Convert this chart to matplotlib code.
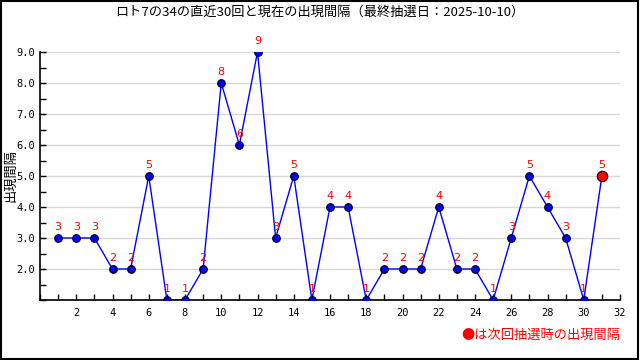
import numpy as np
import matplotlib
matplotlib.use('Agg')
from matplotlib import pyplot as plt
from matplotlib.patches import Rectangle
from matplotlib.ticker import MultipleLocator

plt.rcParams['font.family'] = ['Noto Sans CJK JP', 'DejaVu Sans']

# draws 1..31, the last one is the current gap
draws = list(range(1, 32))
gaps = [3, 3, 3, 2, 2, 5, 1, 1, 2, 8, 6, 9, 3, 5, 1, 4, 4, 1, 2, 2, 2, 4, 2, 2, 1, 3, 5, 4, 3, 1, 5]
yticks = [2, 3, 4, 5, 6, 7, 8, 9]
xticks = list(range(2, 33, 2))

title = 'ロト7の34の直近30回と現在の出現間隔（最終抽選日：2025-10-10）'
ylabel = '出現間隔'
note = '●は次回抽選時の出現間隔'

fig = plt.figure(figsize=(6.4, 3.6), dpi=100)
ax = fig.add_axes([40 / 640, 60 / 360, 580 / 640, 248 / 360])

# grid
for v in yticks:
    ax.axhline(v, color='#d8d8d8', lw=1, zorder=0)

ax.plot(draws, gaps, color='blue', lw=1, zorder=2)
ax.plot(draws[:-1], gaps[:-1], 'o', ms=5.5, mfc='blue', mec='black', mew=0.8, zorder=3)
ax.plot(draws[-1:], gaps[-1:], 'o', ms=7.5, mfc='red', mec='black', mew=0.8, zorder=3)

for x, y in zip(draws, gaps):
    ax.annotate(str(y), (x, y), xytext=(0, 4), textcoords='offset points',
                ha='center', va='bottom', color='red', fontsize=8,
                family='DejaVu Sans', zorder=4)

ax.set_xlim(0, 32)
ax.set_ylim(1, 9)
ax.set_xticks(xticks)
ax.set_yticks(yticks)
ax.set_yticklabels(['%.1f' % v for v in yticks])
ax.xaxis.set_minor_locator(MultipleLocator(1))
ax.yaxis.set_minor_locator(MultipleLocator(0.5))
ax.tick_params(which='both', direction='in', length=4, width=1, labelsize=7.5)
ax.tick_params(axis='x', pad=6)
for lab in ax.get_xticklabels() + ax.get_yticklabels():
    lab.set_family('DejaVu Sans Mono')
ax.spines['top'].set_visible(False)
ax.spines['right'].set_visible(False)
ax.spines['left'].set_linewidth(1.2)
ax.spines['bottom'].set_linewidth(1.2)
ax.set_clip_on(False)

fig.text(0.5, 1 - 12 / 360, title, ha='center', va='center', fontsize=9.5)
fig.text(11 / 640, 1 - 175 / 360, ylabel, ha='center', va='center', rotation=90, fontsize=9.5)
fig.text(620 / 640, 1 - 335 / 360, note, ha='right', va='center', color='red', fontsize=9.5)

# border around whole picture
fig.patches.append(Rectangle((0.001, 0.002), 0.996, 0.995, transform=fig.transFigure,
                             fill=False, ec='black', lw=1.5))

fig.savefig('out.png', dpi=100)
